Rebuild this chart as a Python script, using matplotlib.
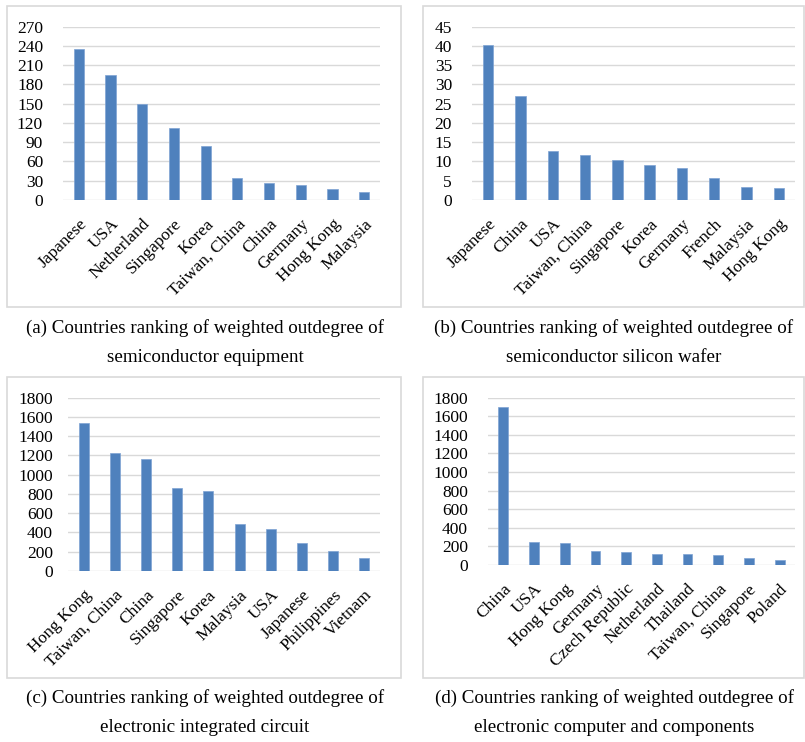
import matplotlib
matplotlib.use("Agg")
import matplotlib.pyplot as plt
from matplotlib.patches import Rectangle

plt.rcParams['font.family'] = ['Liberation Serif', 'DejaVu Serif']

W, H = 805, 742

# (a) semiconductor equipment
cats_a = ["Japanese", "USA", "Netherland", "Singapore", "Korea",
          "Taiwan, China", "China", "Germany", "Hong Kong", "Malaysia"]
vals_a = [235, 195, 150, 112, 84, 35, 27, 23, 17, 12]
ticks_a = [0, 30, 60, 90, 120, 150, 180, 210, 240, 270]

# (b) semiconductor silicon wafer
cats_b = ["Japanese", "China", "USA", "Taiwan, China", "Singapore",
          "Korea", "Germany", "French", "Malaysia", "Hong Kong"]
vals_b = [40.2, 27.0, 12.7, 11.7, 10.4, 9.2, 8.2, 5.7, 3.3, 3.1]
ticks_b = [0, 5, 10, 15, 20, 25, 30, 35, 40, 45]

# (c) electronic integrated circuit
cats_c = ["Hong Kong", "Taiwan, China", "China", "Singapore", "Korea",
          "Malaysia", "USA", "Japanese", "Philippines", "Vietnam"]
vals_c = [1534, 1229, 1166, 859, 827, 491, 440, 287, 204, 138]
ticks_c = [0, 200, 400, 600, 800, 1000, 1200, 1400, 1600, 1800]

# (d) electronic computer and components
cats_d = ["China", "USA", "Hong Kong", "Germany", "Czech Republic",
          "Netherland", "Thailand", "Taiwan, China", "Singapore", "Poland"]
vals_d = [1696, 244, 237, 154, 140, 122, 115, 104, 72, 57]
ticks_d = [0, 200, 400, 600, 800, 1000, 1200, 1400, 1600, 1800]

captions = [
    ("(a) Countries ranking of weighted outdegree of", "semiconductor equipment"),
    ("(b) Countries ranking of weighted outdegree of", "semiconductor silicon wafer"),
    ("(c) Countries ranking of weighted outdegree of", "electronic integrated circuit"),
    ("(d) Countries ranking of weighted outdegree of", "electronic computer and components"),
]

BAR = "#4f81bd"
GRID = "#d9d9d9"
FRAME = "#d9d9d9"
PX = 0.72  # points per pixel at 100 dpi

fig = plt.figure(figsize=(W / 100, H / 100), dpi=100)


def px_rect(x0, x1, y_top, y_bot):
    return [x0 / W, 1 - y_bot / H, (x1 - x0) / W, (y_bot - y_top) / H]


def frame(x0, y0, x1, y1):
    fig.patches.append(Rectangle((x0 / W, 1 - y1 / H), (x1 - x0) / W, (y1 - y0) / H,
                                 transform=fig.transFigure, fill=False,
                                 edgecolor=FRAME, linewidth=1.2))


def panel(rect, cats, vals, ticks, ypad):
    ax = fig.add_axes(px_rect(*rect))
    x = list(range(len(cats)))
    ax.bar(x, vals, width=0.32, color=BAR, edgecolor="#7ea3d3", linewidth=0.5, zorder=3)
    ax.set_xlim(-0.5, len(cats) - 0.5)
    ax.set_ylim(ticks[0], ticks[-1])
    ax.set_yticks(ticks)
    ax.set_yticklabels([str(t) for t in ticks], fontsize=12.5)
    ax.yaxis.grid(True, color=GRID, linewidth=1.0, zorder=0)
    ax.set_axisbelow(True)
    for s in ax.spines.values():
        s.set_visible(False)
    ax.tick_params(axis="y", length=0, pad=ypad * PX)
    ax.set_xticks(x)
    ax.set_xticklabels(cats, rotation=45, ha="right", va="top",
                       rotation_mode="anchor", fontsize=12.5)
    ax.tick_params(axis="x", length=0, pad=16 * PX)
    return ax


frame(7, 6, 401, 307)
frame(423, 6, 804, 307)
frame(7, 377, 401, 678)
frame(423, 377, 804, 678)

panel((63, 380, 26.7, 200), cats_a, vals_a, ticks_a, 20)
panel((472, 795, 26.7, 200), cats_b, vals_b, ticks_b, 20)
panel((68, 380, 397.7, 571), cats_c, vals_c, ticks_c, 15)
panel((488, 795, 397.7, 565), cats_d, vals_d, ticks_d, 20)

cap_pos = [(205, 328, 357), (614, 328, 357), (205, 698, 728), (614, 698, 728)]
for (l1, l2), (cx, y1, y2) in zip(captions, cap_pos):
    fig.text(cx / W, 1 - y1 / H, l1, ha="center", va="center", fontsize=13.7)
    fig.text(cx / W, 1 - y2 / H, l2, ha="center", va="center", fontsize=13.7)

fig.savefig("out.png", dpi=100, facecolor="white")
